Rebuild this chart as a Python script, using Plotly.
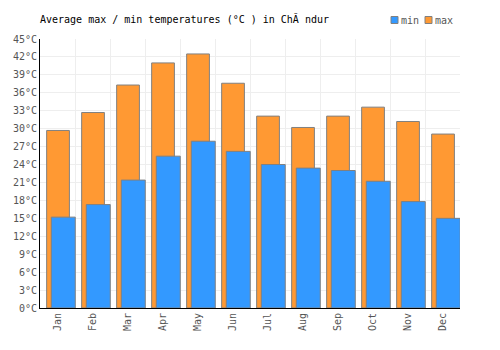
import plotly.graph_objects as go

months = ["Jan", "Feb", "Mar", "Apr", "May", "Jun", "Jul", "Aug", "Sep", "Oct", "Nov", "Dec"]
t_max = [29.7, 32.7, 37.3, 41.0, 42.5, 37.6, 32.1, 30.2, 32.1, 33.6, 31.2, 29.1]
t_min = [15.2, 17.3, 21.4, 25.4, 27.9, 26.2, 24.0, 23.4, 23.0, 21.2, 17.8, 15.0]
y_ticks = list(range(0, 46, 3))

xs = list(range(len(months)))
font = "DejaVu Sans Mono"
c_max = "#FF9933"
c_min = "#3399FF"

fig = go.Figure()
fig.add_trace(go.Bar(x=xs, y=t_max, name="max", marker=dict(color=c_max, line=dict(color="#808080", width=1)),
                     width=0.65, offset=-0.31, showlegend=False))
fig.add_trace(go.Bar(x=xs, y=t_min, name="min", marker=dict(color=c_min, line=dict(color="#808080", width=1)),
                     width=0.685, offset=-0.178, showlegend=False))

# compact legend drawn in paper coordinates (plot area: x 40..460 px, y 39..308 px)
def px_x(p):
    return (p - 40) / 420

def px_y(p):
    return (308 - p) / 269

for nm, col, x0 in [("min", c_min, 391), ("max", c_max, 425)]:
    fig.add_shape(type="rect", xref="paper", yref="paper",
                  x0=px_x(x0), x1=px_x(x0 + 7), y0=px_y(23.5), y1=px_y(16.5),
                  fillcolor=col, line=dict(color="#808080", width=1))
    fig.add_annotation(text=nm, xref="paper", yref="paper", x=px_x(x0 + 9), y=px_y(20),
                       xanchor="left", yanchor="middle", showarrow=False, borderpad=0,
                       font=dict(family=font, size=10, color="#555"))

fig.update_layout(
    width=500, height=350,
    margin=dict(l=40, r=40, t=39, b=42),
    paper_bgcolor="white", plot_bgcolor="white",
    barmode="overlay",
    showlegend=False,
    title=dict(text="Average max / min temperatures (°C ) in ChĂ ndur", x=40/500, xanchor="left",
               y=1 - 19/350, yanchor="middle", font=dict(family=font, size=10, color="#000")),
    font=dict(family=font, size=10, color="#555"),
)
fig.update_xaxes(range=[-0.5, 11.5], tickmode="array", tickvals=xs, ticktext=months, tickangle=-90,
                 showgrid=False, showline=True, linecolor="#000", linewidth=1, ticks="",
                 minor=dict(tickvals=[i + 0.5 for i in xs], showgrid=True, gridcolor="#eeeeee", gridwidth=1),
                 tickfont=dict(family=font, size=10, color="#555"), fixedrange=True)
fig.update_yaxes(range=[0, 45], tickmode="array", tickvals=y_ticks, ticktext=[f"{v}°C" for v in y_ticks],
                 showgrid=True, gridcolor="#eeeeee", gridwidth=1, showline=True, linecolor="#000", linewidth=1,
                 zeroline=False, ticks="", tickfont=dict(family=font, size=10, color="#555"), fixedrange=True)

fig.write_html("out.html")
